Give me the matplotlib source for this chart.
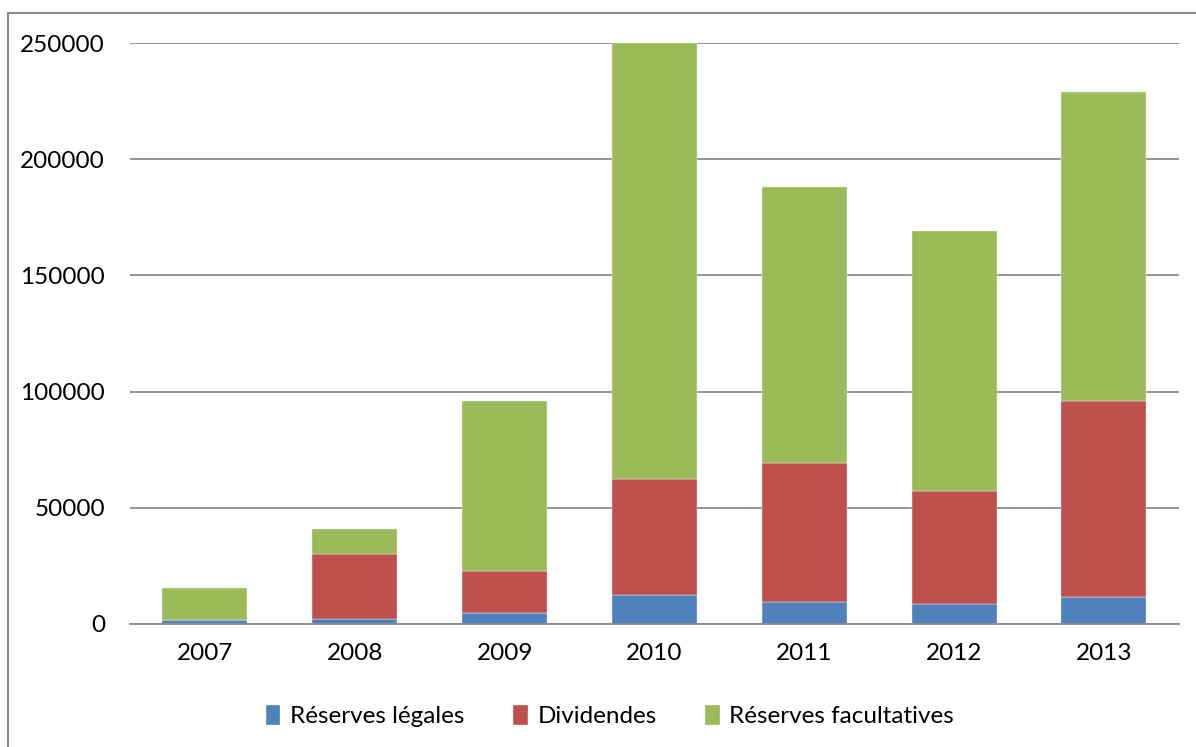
import numpy as np
import matplotlib.pyplot as plt
from matplotlib.patches import Rectangle

plt.rcParams['font.family'] = ['Lato', 'DejaVu Sans']

years = ['2007', '2008', '2009', '2010', '2011', '2012', '2013']
reserves_legales = [1500, 2000, 4600, 12600, 9300, 8500, 11500]
dividendes = [0, 28100, 18100, 49900, 60100, 48700, 84500]
reserves_facultatives = [13900, 10800, 73400, 187500, 118600, 111900, 133000]

colors = ['#4F81BD', '#C0504D', '#9BBB59']
labels = ['Réserves légales', 'Dividendes', 'Réserves facultatives']

fig = plt.figure(figsize=(11.96, 7.47), dpi=100)
ax = fig.add_axes([0.1087, 0.1647, 0.877, 0.7777])

# chart border (left and top visible)
fig.patches.append(Rectangle((8 / 1196, -0.1), 1.2, 1 - 13 / 747 + 0.1,
                             transform=fig.transFigure, fill=False,
                             edgecolor='#8c8c8c', linewidth=1.5))

x = np.arange(len(years))
width = 0.567
bottom = np.zeros(len(years))
for vals, c, lab in zip([reserves_legales, dividendes, reserves_facultatives],
                        colors, labels):
    ax.bar(x, vals, width, bottom=bottom, color=c, label=lab,
           edgecolor='#f0f0f0', linewidth=0.3, zorder=3)
    bottom += np.array(vals)

ax.set_xlim(-0.5, len(years) - 0.5)
ax.set_ylim(0, 250000)
ax.set_yticks(np.arange(0, 250001, 50000))
ax.yaxis.grid(True, color='#8c8c8c', linewidth=1.3, zorder=0)
ax.set_axisbelow(True)
for s in ['top', 'right', 'left']:
    ax.spines[s].set_visible(False)
ax.spines['bottom'].set_color('#8c8c8c')
ax.spines['bottom'].set_linewidth(1.3)
ax.spines['bottom'].set_zorder(4)
ax.tick_params(axis='both', length=0, labelsize=17.5)
ax.tick_params(axis='y', pad=18)
ax.tick_params(axis='x', pad=14)
ax.set_xticks(x)
ax.set_xticklabels(years)

fig.legend(loc='center', bbox_to_anchor=(0.51, 0.0415), ncol=3,
           frameon=False, fontsize=17.5, handlelength=0.6, handleheight=0.9,
           handletextpad=0.4, columnspacing=2.0)

fig.savefig('out.png', dpi=100)
